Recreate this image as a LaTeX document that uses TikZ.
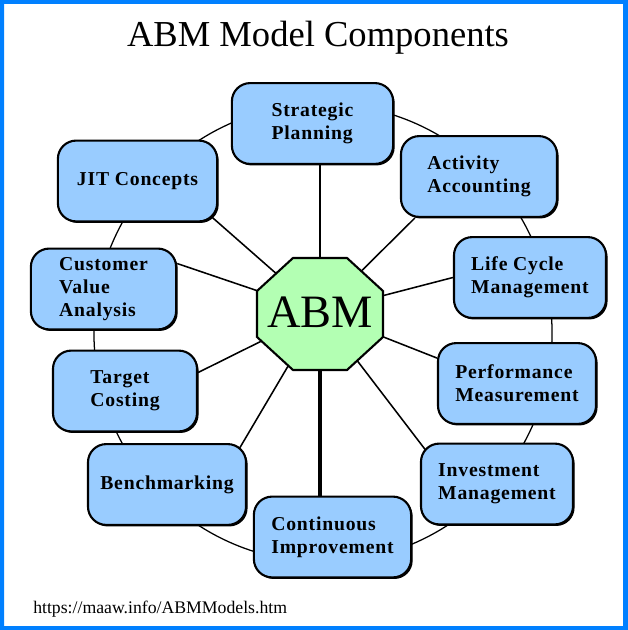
\documentclass[tikz,border=0pt]{standalone}
\usepackage{fontspec}
\setmainfont{Liberation Serif}
\newfontfamily\boxfont{Liberation Serif}[LetterSpace=4.0]
\usetikzlibrary{calc,shadows,backgrounds}
\definecolor{frameblue}{HTML}{0080FF}
\definecolor{boxfill}{HTML}{99CCFF}
\definecolor{octfill}{HTML}{B3FFB3}
\tikzset{
  comp/.style={draw=black, fill=boxfill, line width=1.5pt, rounded corners=13pt,
    minimum height=2.02cm, align=left, inner sep=2pt,
    font=\boxfont\bfseries\fontsize{14}{16.3}\selectfont,
    drop shadow={shadow xshift=1.1pt, shadow yshift=-1.1pt, fill=black, opacity=1}},
  oct/.style={draw=black, fill=octfill, line width=1.5pt, line join=miter},
  spoke/.style={draw=black, line width=1.1pt},
  bigspoke/.style={draw=black, line width=2.4pt},
  ring/.style={draw=black, line width=0.9pt},
  title/.style={font=\fontsize{26}{30}\selectfont},
  abmlab/.style={font=\fontsize{33}{36}\selectfont},
  url/.style={font=\fontsize{12.6}{15}\selectfont},
}
\begin{document}
\begin{tikzpicture}[x=0.025cm, y=-0.025cm]
  \useasboundingbox (0,0) rectangle (628,630);
  % components round the ring
  \node[comp, minimum width=4.03cm] (sp)  at (312.5,123.5) {Strategic\\Planning};
  \node[comp, minimum width=3.90cm] (act) at (479,176.5) {Activity\\Accounting};
  \node[comp, minimum width=3.80cm] (lcm) at (530,277.5) {Life Cycle\\Management};
  \node[comp, minimum width=3.95cm] (pm)  at (517,383.5) {Performance\\Measurement};
  \node[comp, minimum width=3.80cm] (im)  at (497,484) {Investment\\Management};
  \node[comp, minimum width=3.93cm] (ci)  at (332.5,537) {Continuous\\Improvement};
  \node[comp, minimum width=3.95cm] (bm)  at (167,484.5) {Benchmarking};
  \node[comp, minimum width=3.60cm] (tc)  at (125,391) {Target\\Costing};
  \node[comp, minimum width=3.63cm] (cva) at (103.5,289) {Customer\\Value\\Analysis};
  \node[comp, minimum width=3.98cm] (jit) at (137.5,181) {JIT Concepts};
  % centre
  \draw[oct] (293,258) -- (347,258) -- (383,291) -- (383,337) -- (347,370)
    -- (293,370) -- (257,337) -- (257,291) -- cycle;
  \node[abmlab] (abm) at (320,312) {ABM};
  \node[title, anchor=base] (head) at (318,47) {ABM Model Components};
  \node[url, anchor=base west, inner sep=0pt] (link) at (33,613) {https://maaw.info/ABMModels.htm};
  \begin{pgfonlayer}{background}
    \fill[frameblue, even odd rule] (0,0) rectangle (628,630) (4,4) rectangle (623,626);
    \draw[ring] (323,333) circle [radius=5.725cm];
    \draw[spoke] (abm.center) -- (abm.center |- sp.south);
    \draw[spoke] (abm.center) -- ($(act.south west)+(15,0)$);
    \draw[spoke] (abm.center) -- (lcm.west);
    \draw[spoke] (abm.center) -- ($(pm.north west)+(0,16)$);
    \draw[spoke] (abm.center) -- ($(im.north west)+(6,8)$);
    \draw[bigspoke] (abm.center) -- (abm.center |- ci.north);
    \draw[spoke] (abm.center) -- ($(bm.north east)+(-8,6)$);
    \draw[spoke] (abm.center) -- ($(tc.north east)+(0,23)$);
    \draw[spoke] (abm.center) -- ($(cva.north east)+(0,16)$);
    \draw[spoke] (abm.center) -- ($(jit.south east)+(-7,-6)$);
  \end{pgfonlayer}
\end{tikzpicture}
\end{document}
